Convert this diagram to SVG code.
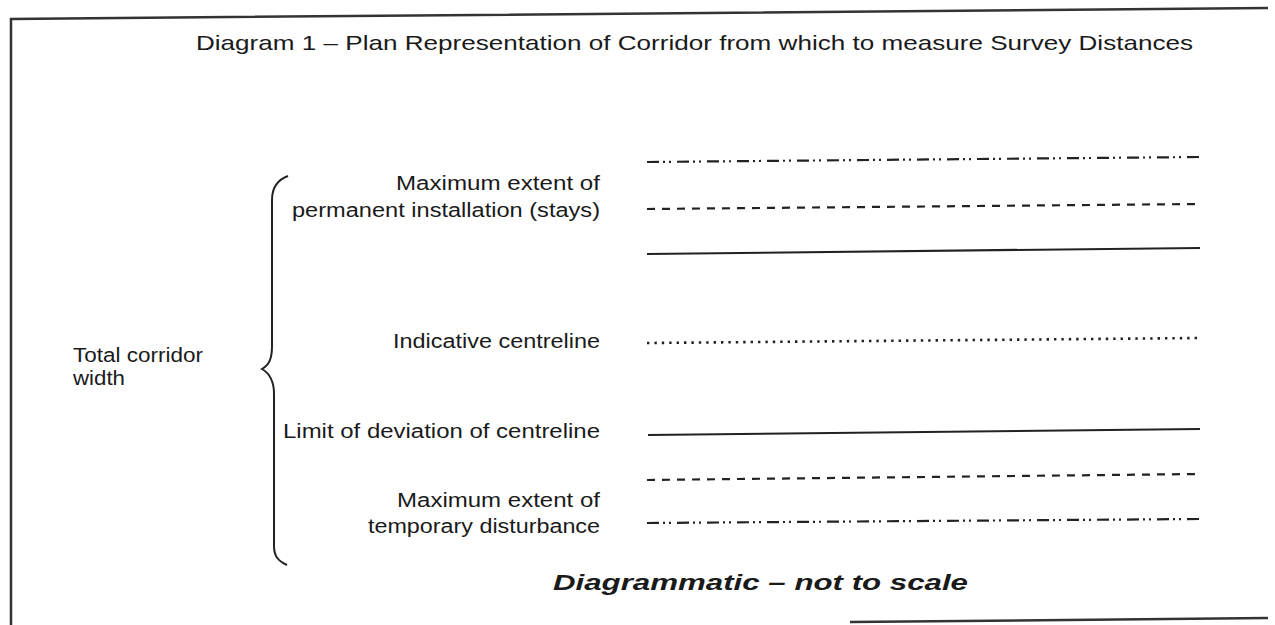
<svg xmlns="http://www.w3.org/2000/svg" width="1275" height="625" viewBox="0 0 1275 625">
<style>
text{font-family:"Liberation Sans",Arial,sans-serif;fill:#1a1a1a}
.lbl{font-size:20px;text-anchor:end}
.ttl{font-size:21px}
.note{font-size:22px;font-weight:bold;font-style:italic}
.frame{stroke:#333;stroke-width:2.5;fill:none}
.ln{stroke:#222;stroke-width:2.2;fill:none}
.dashdot{stroke-dasharray:12 4 2 4 2 6}
.dash{stroke-dasharray:8 7}
.dot{stroke-dasharray:2.4 5;stroke-width:2.6}
</style>
<rect width="1275" height="625" fill="#fff"/>
<g id="frame">
<path class="frame" d="M11 625 L11 19 L1268 8"/>
<path class="frame" d="M850 622 L1268 618"/>
</g>
<text id="title" class="ttl" x="196" y="50" textLength="997" lengthAdjust="spacingAndGlyphs">Diagram 1 – Plan Representation of Corridor from which to measure Survey Distances</text>
<g id="brace">
<path d="M288 176 C277 180 272 188 272 200 L272 346 C272 359 269 365 262 369 C269 373 274 380 274 394 L274 546 C274 556 278 561 287 565" fill="none" stroke="#222" stroke-width="2"/>
</g>
<g id="total-label">
<text x="73" y="362" style="font-size:20px" textLength="130" lengthAdjust="spacingAndGlyphs">Total corridor</text>
<text x="73" y="385" style="font-size:20px" textLength="52" lengthAdjust="spacingAndGlyphs">width</text>
</g>
<g id="labels">
<text class="lbl" x="600" y="190" textLength="204" lengthAdjust="spacingAndGlyphs">Maximum extent of</text>
<text class="lbl" x="600" y="217" textLength="308" lengthAdjust="spacingAndGlyphs">permanent installation (stays)</text>
<text class="lbl" x="600" y="348" textLength="207" lengthAdjust="spacingAndGlyphs">Indicative centreline</text>
<text class="lbl" x="600" y="438" textLength="317" lengthAdjust="spacingAndGlyphs">Limit of deviation of centreline</text>
<text class="lbl" x="600" y="507" textLength="203" lengthAdjust="spacingAndGlyphs">Maximum extent of</text>
<text class="lbl" x="600" y="533" textLength="232" lengthAdjust="spacingAndGlyphs">temporary disturbance</text>
</g>
<g id="lines">
<line class="ln dashdot" x1="647" y1="162" x2="1200" y2="157"/>
<line class="ln dash" x1="647" y1="209" x2="1200" y2="204"/>
<line class="ln" x1="647" y1="254" x2="1200" y2="248"/>
<line class="ln dot" x1="647" y1="343" x2="1200" y2="338"/>
<line class="ln" x1="648" y1="435" x2="1200" y2="429"/>
<line class="ln dash" x1="647" y1="480" x2="1200" y2="474"/>
<line class="ln dashdot" x1="647" y1="523" x2="1200" y2="519"/>
</g>
<text id="note" class="note" x="553" y="590" textLength="415" lengthAdjust="spacingAndGlyphs">Diagrammatic – not to scale</text>
</svg>
